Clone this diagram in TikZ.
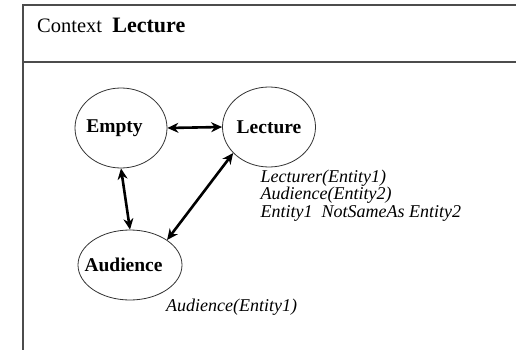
\documentclass[tikz,border=0pt]{standalone}
\usepackage{fontspec}
\setmainfont{Liberation Serif}
\usetikzlibrary{shapes.geometric,arrows.meta}
\tikzset{
  framepen/.style={draw=black!70,line width=1.1pt},
  state/.style={ellipse,draw=black!80,line width=0.8pt,inner sep=0pt,
    font=\fontsize{19.5}{20}\selectfont\bfseries},
  link/.style={{Stealth[length=11pt,width=10pt]}-{Stealth[length=11pt,width=10pt]},line width=2.6pt},
  cond/.style={anchor=base west,align=left,inner sep=0pt,
    font=\fontsize{18}{17.5}\selectfont\itshape}
}
\newcommand{\shiftedtext}[1]{\makebox[0pt]{\kern-13pt #1}}
\begin{document}
\begin{tikzpicture}[x=1pt,y=-1pt]
\useasboundingbox (0,0) rectangle (516,350);
\fill[white] (0,0) rectangle (516,350);
% frame
\coordinate (tl) at (23,5);
\coordinate (tr) at (516,5);
\coordinate (bl) at (23,350);
\coordinate (dl) at (23,62);
\coordinate (dr) at (516,62);
\draw[framepen] (tr) -- (tl) -- (bl);
\draw[framepen] (dl) -- (dr);
\node[anchor=base west,inner sep=0pt,font=\fontsize{20.5}{21}\selectfont] (title) at (37,33) {Context\ \ {\fontsize{22}{22}\selectfont\bfseries Lecture}};
% states
\node[state,minimum width=92pt,minimum height=80pt] (empty) at (121,128) {\shiftedtext{Empty}};
\node[state,minimum width=93pt,minimum height=80pt] (lecture) at (269,127) {Lecture};
\node[state,minimum width=104pt,minimum height=70pt] (audience) at (130,265) {\shiftedtext{Audience}};
% transitions
\draw[link] (empty.east) -- (lecture.west);
\draw[link] (empty.south) -- (audience.north);
\draw[link] (audience.34) -- (lecture.216);
% conditions
\node[cond] (lcond) at (260.5,217) {Lecturer(Entity1)\\Audience(Entity2)\\Entity1\ \ NotSameAs Entity2};
\node[cond] (acond) at (166,311) {Audience(Entity1)};
\end{tikzpicture}
\end{document}
